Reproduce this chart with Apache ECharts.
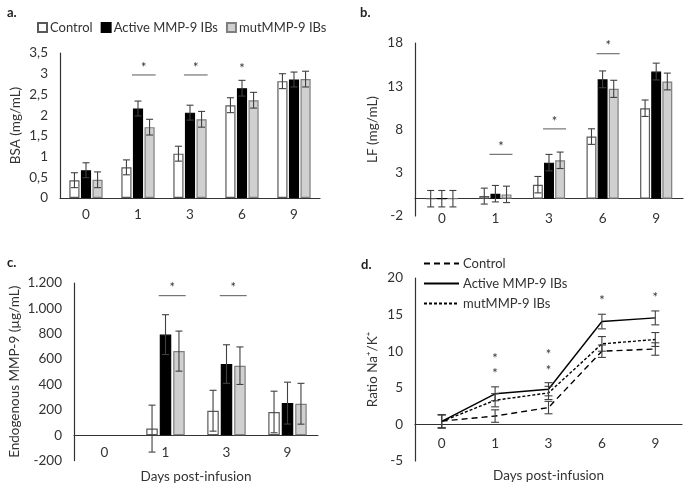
<!DOCTYPE html>
<html><head><meta charset="utf-8">
<script src="https://cdn.jsdelivr.net/npm/echarts@6/dist/echarts.min.js"></script>
<style>html,body{margin:0;padding:0;background:#fff}#c{width:685px;height:485px}</style>
</head><body><div id="c"></div>
<script>
// ---------- data ----------
const seriesNames = ['Control', 'Active MMP-9 IBs', 'mutMMP-9 IBs'];
const daysAB = ['0', '1', '3', '6', '9'];
const daysC = ['0', '1', '3', '9'];
const daysD = ['0', '1', '3', '6', '9'];

// a. BSA (mg/mL)
const bsaControl = [0.43, 0.74, 1.07, 2.24, 2.82];
const bsaActive  = [0.67, 2.16, 2.06, 2.65, 2.86];
const bsaMut     = [0.44, 1.71, 1.90, 2.36, 2.87];
const bsaControlErr = [0.18, 0.18, 0.18, 0.18, 0.18];
const bsaActiveErr  = [0.18, 0.18, 0.18, 0.19, 0.18];
const bsaMutErr     = [0.19, 0.19, 0.19, 0.19, 0.19];
const bsaTicks = ['0', '0,5', '1', '1,5', '2', '2,5', '3', '3,5'];
const bsaSig = [[1, 2.97, 'line'], [2, 2.97, 'line'], [3, 3.22, 'star']];

// b. LF (mg/mL)
const lfControl = [0, 0.30, 1.62, 7.18, 10.46];
const lfActive  = [0, 0.58, 4.17, 13.8, 14.7];
const lfMut     = [0, 0.50, 4.44, 12.7, 13.55];
const lfControlErr = [0.95, 0.92, 0.95, 0.9, 0.95];
const lfActiveErr  = [0.95, 0.95, 0.95, 0.97, 0.97];
const lfMutErr     = [0.95, 0.95, 0.95, 0.99, 0.97];
const lfTicks = ['-2', '3', '8', '13', '18'];
const lfSig = [[1, 5.13, 'line'], [2, 8.07, 'line'], [3, 16.76, 'line']];

// c. Endogenous MMP-9 (µg/mL)
const mmpControl = ['-', 52, 193, 183];
const mmpActive  = ['-', 793, 561, 253];
const mmpMut     = ['-', 663, 548, 248];
const mmpControlErr = [null, 185, 161, 164];
const mmpActiveErr  = [null, 157, 152, 165];
const mmpMutErr     = [null, 158, 148, 161];
const mmpTicks = ['-200', '0', '200', '400', '600', '800', '1.000', '1.200'];
const mmpSig = [[1, 1100, 'line'], [2, 1100, 'line']];

// d. Ratio Na+/K+
const ratioControl = [0.45, 1.14, 2.30, 10.0, 10.3];
const ratioActive  = [0.40, 4.18, 4.80, 14.05, 14.55];
const ratioMut     = [0.40, 3.30, 4.30, 11.0, 11.6];
const ratioControlErr = [0.9, 0.85, 0.85, 0.85, 0.85];
const ratioActiveErr  = [0.9, 0.95, 0.9, 1.0, 0.95];
const ratioMutErr     = [0.9, 0.9, 0.9, 1.0, 0.95];
const ratioTicks = ['-5', '0', '5', '10', '15', '20'];
const ratioStars = [[1, 9.5], [1, 7.4], [2, 10.1], [2, 7.9], [3, 17.4], [4, 17.8]];

// ---------- helpers ----------
const FONT = 'Lato';
const TXT = '#333';
const colors = {
  fill: ['#ffffff', '#000000', '#d0d0d0'],
  border: ['#595959', '#000000', '#7f7f7f']
};

function barOffset(api, idx, pct, gap) {
  const W = api.size([1, 0])[0];
  const b = W * (1 - pct) / (3 + 2 * gap);
  return { off: (idx - 1) * b * (1 + gap), b: b, gap: gap * b };
}

function errSeries(gi, values, errs, idx, pct, gap, cap) {
  return {
    type: 'custom', xAxisIndex: gi, yAxisIndex: gi, silent: true, z: 5,
    data: values.map((v, i) => [i, v === '-' ? NaN : v, errs[i] == null ? NaN : errs[i]]),
    renderItem: function (params, api) {
      const c = api.value(0), v = api.value(1), e = api.value(2);
      if (isNaN(e) || isNaN(v)) return;
      const o = idx == null ? { off: 0 } : barOffset(api, idx, pct, gap);
      const t = api.coord([c, v + e]), bt = api.coord([c, v - e]);
      const x = t[0] + o.off;
      const st = { stroke: '#404040', lineWidth: 1.1 };
      return { type: 'group', children: [
        { type: 'line', shape: { x1: x, y1: t[1], x2: x, y2: bt[1] }, style: st },
        { type: 'line', shape: { x1: x - cap, y1: t[1], x2: x + cap, y2: t[1] }, style: st },
        { type: 'line', shape: { x1: x - cap, y1: bt[1], x2: x + cap, y2: bt[1] }, style: st }
      ] };
    }
  };
}

function sigSeries(gi, sig, pct, gap) {
  return {
    type: 'custom', xAxisIndex: gi, yAxisIndex: gi, silent: true, z: 6,
    data: sig.map(s => [s[0], s[1], s[2] === 'line' ? 1 : 0]),
    renderItem: function (params, api) {
      const c = api.value(0), y = api.value(1), isLine = api.value(2) === 1;
      const o = barOffset(api, 1, pct, gap);
      const p = api.coord([c, y]);
      const children = [];
      if (isLine) {
        const x1 = p[0] - o.b / 2 - 1;
        const x2 = p[0] + o.b + o.gap + o.b / 2 + 1;
        children.push({ type: 'line', shape: { x1: x1, y1: p[1], x2: x2, y2: p[1] },
          style: { stroke: '#595959', lineWidth: 1 } });
        children.push({ type: 'text', x: (x1 + x2) / 2, y: p[1] - 1,
          style: { text: '*', fill: TXT, font: '13px ' + FONT, align: 'center', verticalAlign: 'bottom' } });
      } else {
        children.push({ type: 'text', x: p[0], y: p[1] + 4,
          style: { text: '*', fill: TXT, font: '13px ' + FONT, align: 'center', verticalAlign: 'middle' } });
      }
      return { type: 'group', children: children };
    }
  };
}

function starSeries(gi, stars) {
  return {
    type: 'custom', xAxisIndex: gi, yAxisIndex: gi, silent: true, z: 6,
    data: stars,
    renderItem: function (params, api) {
      const p = api.coord([api.value(0), api.value(1)]);
      return { type: 'text', x: p[0], y: p[1] + 4,
        style: { text: '*', fill: TXT, font: '13px ' + FONT, align: 'center', verticalAlign: 'middle' } };
    }
  };
}

function barSeries(gi, name, data, idx, pct, gap) {
  return {
    type: 'bar', name: name, xAxisIndex: gi, yAxisIndex: gi, data: data,
    barCategoryGap: pct * 100 + '%', barGap: gap * 100 + '%',
    itemStyle: { color: colors.fill[idx], borderColor: colors.border[idx], borderWidth: 1.2 },
    silent: true
  };
}

const grids = [
  { left: 60, top: 53, width: 260, height: 145 },
  { left: 415, top: 43, width: 268, height: 173 },
  { left: 74, top: 283, width: 244, height: 179 },
  { left: 415, top: 278, width: 267, height: 183 }
];
const yRanges = [[0, 3.5], [-2, 18], [-200, 1200], [-5, 20]];

function xAxis(gi, cats, margin, name, nameGap) {
  const r = yRanges[gi];
  // move the category axis up to the value 0 of its panel
  const zeroOffset = -grids[gi].height * (0 - r[0]) / (r[1] - r[0]);
  return {
    type: 'category', gridIndex: gi, data: cats, position: 'bottom', offset: zeroOffset,
    axisLine: { show: true, onZero: false, lineStyle: { color: '#333', width: 1.2 } },
    axisTick: { show: false },
    axisLabel: { color: TXT, fontSize: 13.5, fontFamily: FONT, margin: margin },
    name: name || '', nameLocation: 'middle', nameGap: nameGap || 0,
    nameTextStyle: { color: TXT, fontSize: 13.5, fontFamily: FONT }
  };
}

function yAxis(gi, interval, ticks, name, nameGap) {
  const min = yRanges[gi][0], max = yRanges[gi][1];
  return {
    type: 'value', gridIndex: gi, min: min, max: max, interval: interval,
    axisLine: { show: true, lineStyle: { color: '#333', width: 1.2 } },
    axisTick: { show: false }, splitLine: { show: false },
    axisLabel: { color: TXT, fontSize: 13.5, fontFamily: FONT, margin: 12,
      formatter: v => ticks[Math.round((v - min) / interval)] },
    name: name, nameLocation: 'middle', nameGap: nameGap, nameRotate: 90,
    nameTextStyle: { color: TXT, fontSize: 13.5, fontFamily: FONT }
  };
}

const pA = 0.36, gA = 0.14, pB = 0.40, gB = 0.12, pC = 0.37, gC = 0.17;
const dNames = seriesNames.map(n => n + '\u200b');

const series = [
  barSeries(0, seriesNames[0], bsaControl, 0, pA, gA),
  barSeries(0, seriesNames[1], bsaActive, 1, pA, gA),
  barSeries(0, seriesNames[2], bsaMut, 2, pA, gA),
  errSeries(0, bsaControl, bsaControlErr, 0, pA, gA, 3.5),
  errSeries(0, bsaActive, bsaActiveErr, 1, pA, gA, 3.5),
  errSeries(0, bsaMut, bsaMutErr, 2, pA, gA, 3.5),
  sigSeries(0, bsaSig, pA, gA),

  barSeries(1, seriesNames[0], lfControl, 0, pB, gB),
  barSeries(1, seriesNames[1], lfActive, 1, pB, gB),
  barSeries(1, seriesNames[2], lfMut, 2, pB, gB),
  errSeries(1, lfControl, lfControlErr, 0, pB, gB, 3.5),
  errSeries(1, lfActive, lfActiveErr, 1, pB, gB, 3.5),
  errSeries(1, lfMut, lfMutErr, 2, pB, gB, 3.5),
  sigSeries(1, lfSig, pB, gB),

  barSeries(2, seriesNames[0], mmpControl, 0, pC, gC),
  barSeries(2, seriesNames[1], mmpActive, 1, pC, gC),
  barSeries(2, seriesNames[2], mmpMut, 2, pC, gC),
  errSeries(2, mmpControl, mmpControlErr, 0, pC, gC, 3.5),
  errSeries(2, mmpActive, mmpActiveErr, 1, pC, gC, 3.5),
  errSeries(2, mmpMut, mmpMutErr, 2, pC, gC, 3.5),
  sigSeries(2, mmpSig, pC, gC),

  { type: 'line', name: dNames[0], xAxisIndex: 3, yAxisIndex: 3, data: ratioControl, symbol: 'none', silent: true,
    lineStyle: { color: '#000', width: 1.4, type: [6, 4] }, itemStyle: { color: '#000' } },
  { type: 'line', name: dNames[1], xAxisIndex: 3, yAxisIndex: 3, data: ratioActive, symbol: 'none', silent: true,
    lineStyle: { color: '#000', width: 1.4, type: 'solid' }, itemStyle: { color: '#000' } },
  { type: 'line', name: dNames[2], xAxisIndex: 3, yAxisIndex: 3, data: ratioMut, symbol: 'none', silent: true,
    lineStyle: { color: '#000', width: 1.4, type: [3, 2] }, itemStyle: { color: '#000' } },
  errSeries(3, ratioControl, ratioControlErr, null, 0, 0, 4),
  errSeries(3, ratioActive, ratioActiveErr, null, 0, 0, 4),
  errSeries(3, ratioMut, ratioMutErr, null, 0, 0, 4),
  starSeries(3, ratioStars)
];

const titleStyle = { fontSize: 13, fontWeight: 'bold', fontFamily: FONT, color: '#222' };
const option = {
  animation: false,
  backgroundColor: '#fff',
  title: [
    { text: 'a.', left: 2, top: 1, textStyle: titleStyle },
    { text: 'b.', left: 355, top: 1, textStyle: titleStyle },
    { text: 'c.', left: 2, top: 251, textStyle: titleStyle },
    { text: 'd.', left: 356, top: 253, textStyle: titleStyle }
  ],
  legend: [
    { data: seriesNames, left: 32, top: 16, orient: 'horizontal', icon: 'rect',
      itemWidth: 9, itemHeight: 9, itemGap: 8, selectedMode: false,
      textStyle: { color: TXT, fontSize: 13, fontFamily: FONT, padding: [0, 0, 0, -2] } },
    { data: dNames, left: 418, top: 252, orient: 'vertical',
      itemWidth: 35, itemHeight: 10, itemGap: 7, selectedMode: false,
      itemStyle: { opacity: 0 },
      textStyle: { color: TXT, fontSize: 13, fontFamily: FONT, padding: [0, 0, 0, -1] } }
  ],
  grid: grids,
  xAxis: [
    xAxis(0, daysAB, 10),
    xAxis(1, daysAB, 13),
    xAxis(2, daysC, 11, 'Days post-infusion', 35),
    xAxis(3, daysD, 12, 'Days post-infusion', 44)
  ],
  yAxis: [
    yAxis(0, 0.5, bsaTicks, 'BSA (mg/mL)', 37),
    yAxis(1, 5, lfTicks, 'LF (mg/mL)', 35),
    yAxis(2, 200, mmpTicks, 'Endogenous MMP-9 (µg/mL)', 52),
    yAxis(3, 5, ratioTicks, 'Ratio Na⁺/K⁺', 35)
  ],
  series: series
};
const chart = echarts.init(document.getElementById('c'), null, { renderer: 'canvas' });
chart.setOption(option);
</script></body></html>
